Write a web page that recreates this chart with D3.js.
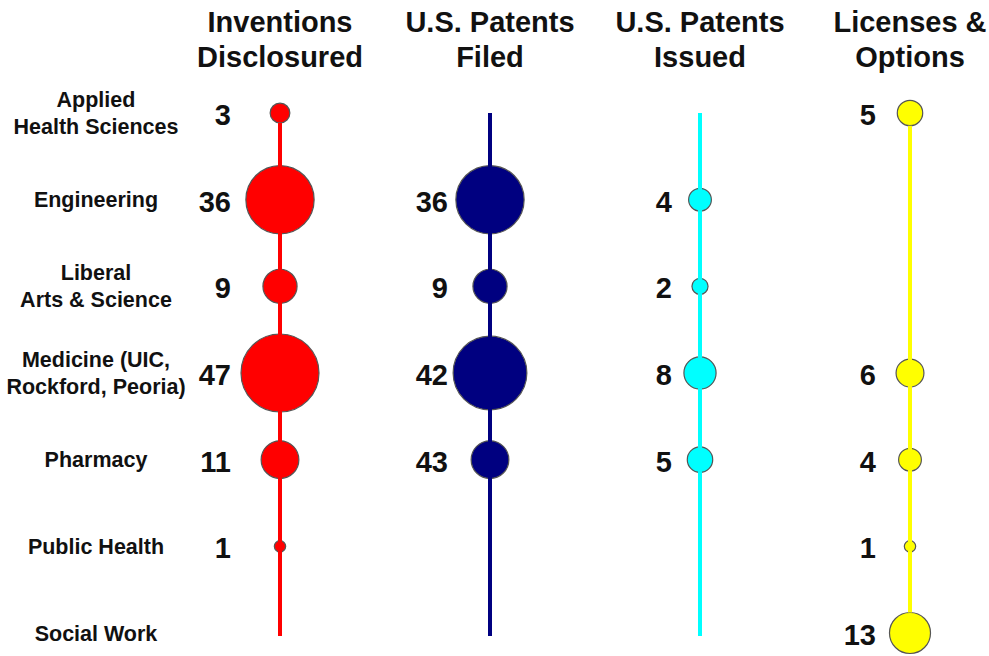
<!DOCTYPE html>
<html>
<head>
<meta charset="utf-8">
<script src="https://cdn.jsdelivr.net/npm/d3@7"></script>
<style>
  body { margin: 0; background: #fff; }
  svg { display: block; font-family: "Liberation Sans", Arial, sans-serif; font-weight: bold; }
</style>
</head>
<body>
<svg></svg>
<script>
let categories = [
    "Applied\nHealth Sciences",
    "Engineering",
    "Liberal\nArts & Science",
    "Medicine (UIC,\nRockford, Peoria)",
    "Pharmacy",
    "Public Health",
    "Social Work"
];

let headers = ["Inventions\nDisclosured", "U.S. Patents\nFiled", "U.S. Patents\nIssued", "Licenses &\nOptions"];

// printed numbers (null = nothing shown)
let inventions = [3, 36, 9, 47, 11, 1, null];
let patentsFiled = [null, 36, 9, 42, 43, null, null];
let patentsIssued = [null, 4, 2, 8, 5, null, null];
let licenses = [5, null, null, 6, 4, 1, 13];

// bubble sizes as drawn (Pharmacy "filed" bubble is drawn at the size of 11)
let filedBubble = [null, 36, 9, 42, 11, null, null];

let width = 989;
let height = 656;

let columns = [
    { name: headers[0], labels: inventions, sizes: inventions, color: "#ff0000", gap: 49 },
    { name: headers[1], labels: patentsFiled, sizes: filedBubble, color: "#000080", gap: 42 },
    { name: headers[2], labels: patentsIssued, sizes: patentsIssued, color: "#00ffff", gap: 28 },
    { name: headers[3], labels: licenses, sizes: licenses, color: "#ffff00", gap: 34 }
];

let svg = d3.select("svg")
    .attr("width", width)
    .attr("height", height);

let xScale = d3.scalePoint()
    .domain(headers)
    .range([280, 910]);

let yScale = d3.scalePoint()
    .domain(categories)
    .range([113, 633]);

let rScale = d3.scaleSqrt()
    .domain([0, 47])
    .range([0, 39]);

// column headers
headers.forEach(h => {
    let t = svg.append("text")
        .attr("text-anchor", "middle")
        .attr("font-size", 29)
        .attr("fill", "#111");
    h.split("\n").forEach((line, i) => {
        t.append("tspan")
            .attr("x", xScale(h))
            .attr("y", 32 + i * 35)
            .text(line);
    });
});

// row labels
categories.forEach(c => {
    let lines = c.split("\n");
    let t = svg.append("text")
        .attr("text-anchor", "middle")
        .attr("font-size", 21.5)
        .attr("fill", "#111");
    lines.forEach((line, i) => {
        t.append("tspan")
            .attr("x", 96)
            .attr("y", yScale(c) + 7.5 + (i - (lines.length - 1) / 2) * 27)
            .text(line);
    });
});

columns.forEach(col => {
    let cx = xScale(col.name);
    let items = categories.map((c, i) => ({ cat: c, label: col.labels[i], size: col.sizes[i] }));

    svg.append("g")
        .selectAll("circle")
        .data(items.filter(d => d.size != null))
        .enter()
        .append("circle")
        .attr("cx", cx)
        .attr("cy", d => yScale(d.cat))
        .attr("r", d => rScale(d.size))
        .attr("fill", col.color)
        .attr("stroke", "#555")
        .attr("stroke-width", 1.2);

    // line runs over the inner bubbles, stops at the edge of end bubbles
    let first = items[0];
    let last = items[items.length - 1];
    let y1 = yScale(first.cat) + (first.size != null ? rScale(first.size) : 0);
    let y2 = last.size != null ? yScale(last.cat) - rScale(last.size) : yScale(last.cat) + 3;

    svg.append("line")
        .attr("x1", cx)
        .attr("x2", cx)
        .attr("y1", y1)
        .attr("y2", y2)
        .attr("stroke", col.color)
        .attr("stroke-width", 4);

    svg.append("g")
        .selectAll("text")
        .data(items.filter(d => d.label != null))
        .enter()
        .append("text")
        .attr("x", cx - col.gap)
        .attr("y", d => yScale(d.cat) + 12)
        .attr("text-anchor", "end")
        .attr("font-size", 29)
        .attr("fill", "#111")
        .text(d => d.label);
});
</script>
</body>
</html>
